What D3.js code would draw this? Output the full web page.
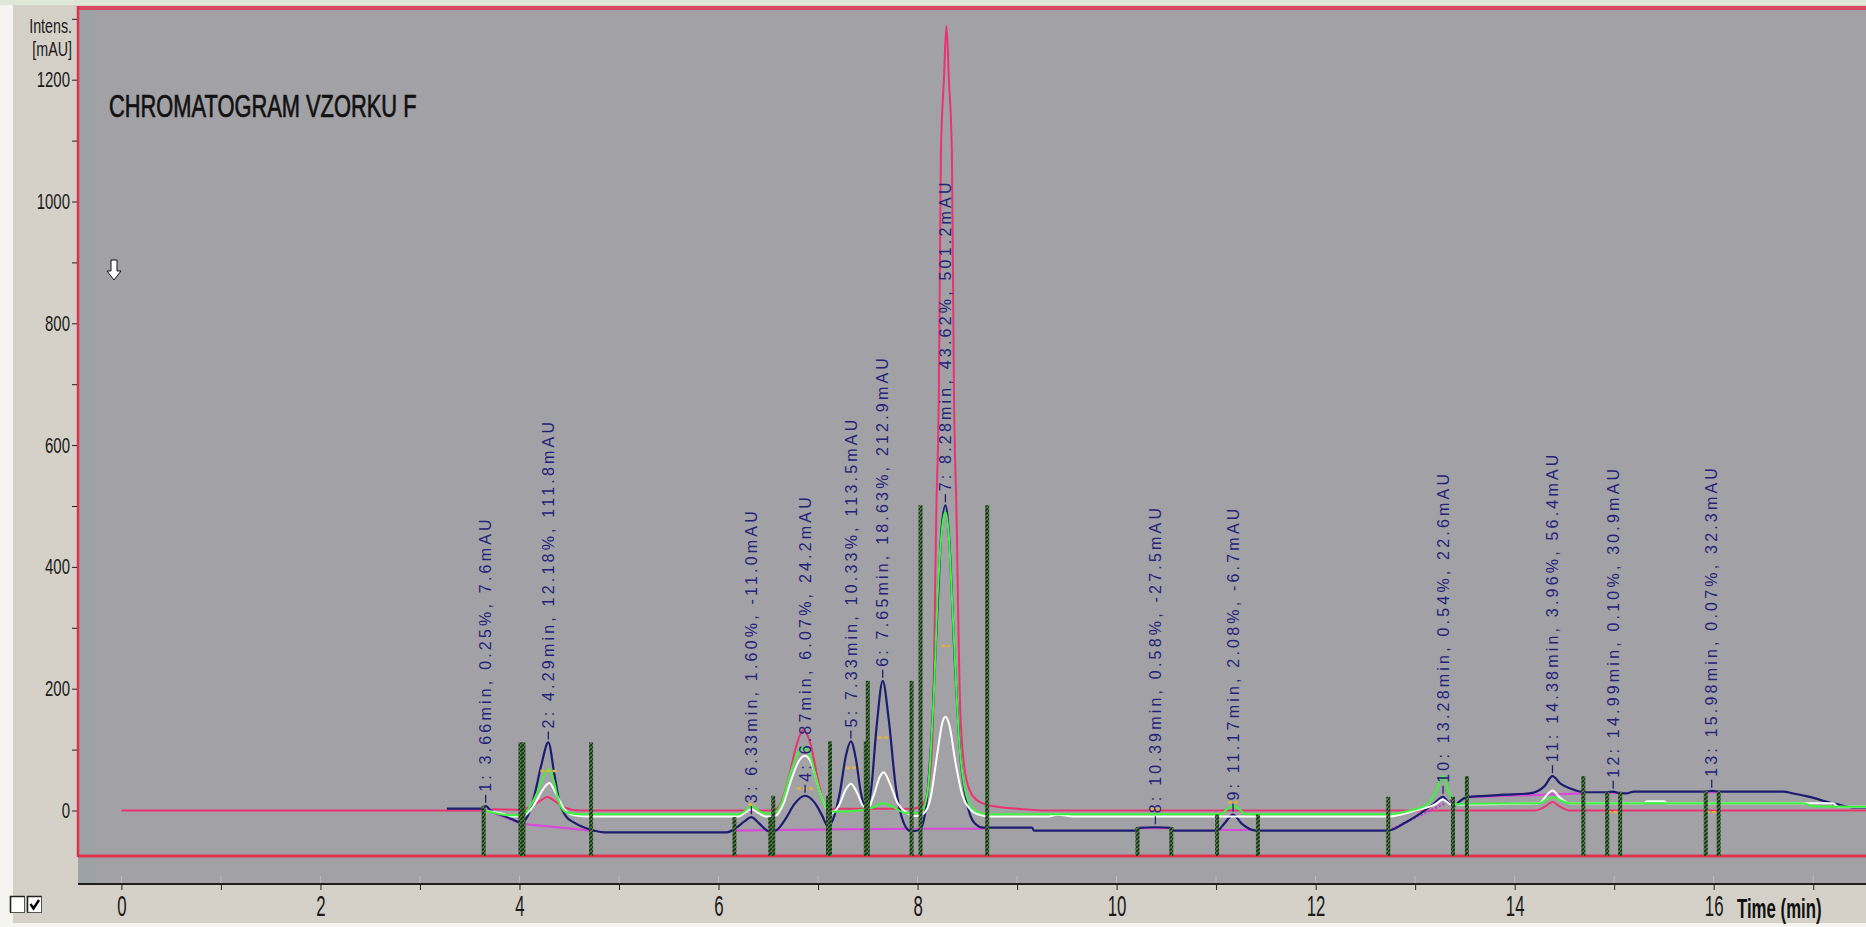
<!DOCTYPE html>
<html><head><meta charset="utf-8">
<script src="https://cdn.jsdelivr.net/npm/d3@7"></script>
<style>
html,body{margin:0;padding:0;background:#fff;overflow:hidden}
svg{display:block}
text{font-family:"Liberation Sans",Arial,Helvetica,sans-serif}
</style></head><body>
<svg id="chart" width="1866" height="927"></svg>
<script>
// ---------- data ----------
const timeTicks = d3.range(0, 18, 1);            // minutes, every minute ticked
const timeLabels = [0, 2, 4, 6, 8, 10, 12, 14, 16];
const intensTicks = d3.range(0, 1301, 100);       // mAU
const intensLabels = [0, 200, 400, 600, 800, 1000, 1200];

// integrated peaks: number, retention time, area %, height (mAU)
const peakNo     = [1, 2, 3, 4, 5, 6, 7, 8, 9, 10, 11, 12, 13];
const peakTime   = [3.66, 4.29, 6.33, 6.87, 7.33, 7.65, 8.28, 10.39, 11.17, 13.28, 14.38, 14.99, 15.98];
const peakArea   = [0.25, 12.18, 1.60, 6.07, 10.33, 18.63, 43.62, 0.58, 2.08, 0.54, 3.96, 0.10, 0.07];
const peakHeight = [7.6, 111.8, -11.0, 24.2, 113.5, 212.9, 501.2, -27.5, -6.7, 22.6, 56.4, 30.9, 32.3];

// main (navy) channel, shape points between the peak apexes [min, mAU]
const navyShape = [
  [3.27, 3], [3.62, 3], [3.71, 0], [3.80, -6], [3.92, -14], [4.02, -20], [4.08, -10], [4.15, 25], [4.22, 75],
  [4.35, 60], [4.40, 15], [4.46, -8], [4.55, -20], [4.65, -28], [4.75, -33], [4.85, -36], [6.08, -36], [6.18, -28], [6.26, -18],
  [6.40, -20], [6.48, -32], [6.53, -36], [6.60, -30], [6.68, -12], [6.76, 10],
  [6.97, 12], [7.04, -8], [7.10, -26], [7.15, -15], [7.22, 30], [7.28, 90],
  [7.38, 85], [7.43, 30], [7.48, 4], [7.53, 30], [7.59, 140],
  [7.71, 150], [7.78, 40], [7.86, -20], [7.93, -34], [8.02, -32], [8.08, 0], [8.14, 120], [8.20, 330], [8.24, 460],
  [8.32, 440], [8.37, 260], [8.43, 90], [8.50, 10], [8.57, -20], [8.66, -28], [9.15, -28], [9.17, -33], [10.20, -33], [10.22, -28.5],
  [10.55, -28.5], [10.57, -33], [11.01, -33], [11.08, -22],
  [11.26, -22], [11.40, -33], [12.73, -33], [12.90, -20], [13.05, -5], [13.18, 10],
  [13.34, 12], [13.40, 8], [13.44, 14], [13.52, 22], [13.70, 24], [13.90, 26], [14.15, 28], [14.30, 40],
  [14.46, 44], [14.56, 36], [14.70, 30], [14.92, 30],
  [15.06, 28], [15.12, 28], [15.20, 31], [15.90, 31],
  [16.06, 31], [16.70, 31], [16.80, 28], [16.92, 24], [17.02, 20], [17.12, 15], [17.22, 11], [17.32, 7], [17.42, 5], [17.56, 5]
];

// second channel (pink)
const pinkTrace = [
  [0, 0], [3.64, 0], [3.75, 2], [4.00, 1], [4.10, 5], [4.20, 15], [4.28, 22], [4.36, 15], [4.45, 5], [4.60, 0],
  [6.55, 0], [6.62, 10], [6.70, 50], [6.78, 105], [6.85, 132], [6.92, 112], [7.00, 50], [7.06, 12], [7.12, 3], [7.95, 3],
  [8.04, 8], [8.10, 30], [8.15, 120], [8.19, 500], [8.215, 700], [8.225, 900], [8.235, 1080], [8.265, 1200], [8.29, 1288],
  [8.315, 1200], [8.345, 1080], [8.355, 900], [8.365, 700], [8.39, 500], [8.43, 160], [8.48, 60], [8.55, 25], [8.65, 12],
  [8.80, 6], [9.00, 3], [9.30, 0], [14.20, 0], [14.30, 6], [14.38, 14], [14.46, 6], [14.56, 0], [17.56, 0]
];

// third channel (green)
const greenTrace = [
  [3.64, 0], [3.75, -4], [3.90, -8], [4.03, -8], [4.10, 5], [4.18, 30], [4.25, 58], [4.30, 68], [4.35, 45], [4.40, 12],
  [4.47, -3], [4.60, -6], [6.20, -6], [6.27, 0], [6.33, 8], [6.40, 0], [6.47, -5], [6.57, -3], [6.64, 15], [6.72, 60],
  [6.80, 95], [6.86, 104], [6.93, 85], [7.00, 40], [7.07, 8], [7.14, -2], [7.40, 0], [7.55, 5], [7.65, 12], [7.75, 6],
  [7.88, -4], [8.03, -4], [8.10, 30], [8.16, 180], [8.21, 380], [8.26, 480], [8.28, 490], [8.31, 460], [8.36, 300],
  [8.42, 110], [8.49, 25], [8.56, 2], [8.70, -6], [11.05, -6], [11.12, 4], [11.17, 8], [11.22, 4], [11.30, -6],
  [12.73, -6], [12.95, 0], [13.12, 10], [13.22, 35], [13.28, 57], [13.34, 30], [13.40, 10], [13.50, 11], [14.25, 12],
  [14.32, 18], [14.38, 22], [14.45, 17], [14.55, 12], [16.90, 12], [17.00, 7], [17.56, 6]
];

// fourth channel (white)
const whiteTrace = [
  [3.64, 0], [3.80, -4], [3.95, -10], [4.05, -8], [4.15, 10], [4.25, 38], [4.30, 45], [4.36, 30], [4.44, 5], [4.55, -8],
  [4.70, -10], [6.20, -10], [6.27, -3], [6.33, 2], [6.40, -4], [6.48, -10], [6.57, -9], [6.65, 10], [6.73, 50], [6.81, 82],
  [6.87, 90], [6.94, 75], [7.01, 35], [7.08, 5], [7.14, -4], [7.21, 8], [7.28, 35], [7.33, 44], [7.39, 30], [7.45, 8],
  [7.50, 3], [7.56, 25], [7.62, 55], [7.66, 63], [7.72, 45], [7.80, 12], [7.88, -2], [7.98, -9], [8.06, -5], [8.13, 20],
  [8.20, 95], [8.25, 145], [8.28, 154], [8.32, 140], [8.38, 80], [8.45, 25], [8.53, 2], [8.62, -7], [8.75, -10], [9.30, -10],
  [9.40, -7], [9.60, -10], [12.73, -10], [13.00, 0], [13.20, 10], [13.28, 18], [13.36, 10], [13.45, 10], [14.25, 12],
  [14.32, 25], [14.38, 33], [14.45, 22], [14.55, 12], [15.30, 12], [15.33, 15], [15.50, 15], [15.53, 12], [17.20, 12],
  [17.25, 6], [17.56, 6]
];

// integration baselines [min, mAU]
const baselineSegments = [
  [[3.64, 2], [4.03, -22], [4.72, -33]],
  [[6.16, -33], [7.12, -31], [7.94, -30], [8.70, -30]],
  [[10.21, -29], [10.55, -29]],
  [[11.01, -32], [11.42, -32]],
  [[13.52, 22], [14.69, 28]],
  [[14.93, 29], [15.06, 29]],
  [[15.92, 30], [16.05, 30]]
];
const dottedBaseline = [[12.73, -33], [13.38, 18]];

// half-height width markers [start, end, mAU]
const widthMarks = [
  [4.21, 4.37, 65], [6.30, 6.37, 10], [6.79, 6.95, 36], [7.28, 7.38, 70], [7.60, 7.71, 120],
  [8.24, 8.33, 270], [10.34, 10.44, 2], [11.12, 11.22, 13], [14.93, 15.05, -3], [15.92, 16.04, -3]
];

// peak start / end delimiters [min, top mAU]
const delimiters = [
  [3.64, 7.6], [4.01, 111.8], [4.04, 111.8], [4.72, 111.8], [6.16, -11.0], [6.52, -11.0], [6.55, 24.2],
  [7.10, 24.2], [7.12, 113.5], [7.48, 113.5], [7.50, 212.9], [7.94, 212.9], [8.03, 501.2], [8.70, 501.2],
  [10.21, -27.5], [10.55, -27.5], [11.01, -6.7], [11.42, -6.7], [12.73, 22.6], [13.38, 22.6], [13.52, 56.4],
  [14.69, 56.4], [14.93, 30.9], [15.06, 30.9], [15.92, 32.3], [16.05, 32.3]
];

// ---------- layout ----------
const W = 1866, H = 927;
const plotLeft = 78, plotTop = 9, frameBottom = 856, axisY = 884;

const x = d3.scaleLinear().domain([0, 16]).range([121.4, 1713.7]);
const y = d3.scaleLinear().domain([0, 1200]).range([810.5, 79.7]);

const svg = d3.select("#chart");
const defs = svg.append("defs");

defs.append("clipPath").attr("id", "plotClip")
  .append("rect").attr("x", plotLeft + 1).attr("y", plotTop + 2)
  .attr("width", W - plotLeft).attr("height", frameBottom - plotTop - 2);

const hatch = defs.append("pattern").attr("id", "hatch")
  .attr("patternUnits", "userSpaceOnUse").attr("width", 4).attr("height", 4);
hatch.append("rect").attr("width", 4).attr("height", 4).attr("fill", "#56784c");
hatch.append("path").attr("d", "M-1,5 L5,-1").attr("stroke", "#143a14").attr("stroke-width", 1.8);

// window background
svg.append("rect").attr("width", W).attr("height", H).attr("fill", "#f4f4f0");
svg.append("rect").attr("x", 13).attr("y", 5).attr("width", W - 13).attr("height", H - 9).attr("fill", "#d5d1c9");
svg.append("rect").attr("x", 0).attr("y", 0).attr("width", W).attr("height", 5).attr("fill", "#dfe8d6");

// plot area
svg.append("rect").attr("x", plotLeft).attr("y", plotTop).attr("width", W - plotLeft)
  .attr("height", axisY - plotTop).attr("fill", "#a2a2a6");
svg.append("rect").attr("x", plotLeft + 2).attr("y", plotTop).attr("width", 15)
  .attr("height", axisY - plotTop).attr("fill", "#9ca3a7");

// frame lines
svg.append("rect").attr("x", plotLeft).attr("y", 6).attr("width", W - plotLeft).attr("height", 4).attr("fill", "#d84a62");
svg.append("line").attr("x1", plotLeft).attr("x2", W).attr("y1", frameBottom).attr("y2", frameBottom)
  .attr("stroke", "#e0324c").attr("stroke-width", 3);
svg.append("line").attr("x1", plotLeft).attr("x2", plotLeft).attr("y1", 6).attr("y2", frameBottom + 1)
  .attr("stroke", "#e0324c").attr("stroke-width", 2.5);

// helper: narrow a text by a horizontal scale around its own anchor point
function narrow(sel, f) {
  sel.each(function () {
    const t = d3.select(this);
    const x0 = +t.attr("x") || 0;
    t.attr("x", x0 / f).attr("transform", `scale(${f},1)`);
  });
}

// y axis
const yAxis = d3.axisLeft(y).tickValues(intensTicks).tickSize(5).tickPadding(2)
  .tickFormat(d => intensLabels.includes(d) ? d : "");
const gy = svg.append("g").attr("transform", `translate(${plotLeft - 1},0)`).call(yAxis);
gy.select(".domain").remove();
gy.selectAll(".tick line").attr("stroke", "#222");
gy.selectAll(".tick text").attr("font-size", 22).attr("fill", "#1a1a1a")
  .attr("font-family", "'Liberation Sans',Arial,sans-serif").call(narrow, 0.68);

svg.append("text").attr("x", 72).attr("y", 33).attr("text-anchor", "end").attr("font-size", 21)
  .attr("fill", "#1a1a1a").text("Intens.").call(narrow, 0.68);
svg.append("text").attr("x", 72).attr("y", 56).attr("text-anchor", "end").attr("font-size", 21)
  .attr("fill", "#1a1a1a").text("[mAU]").call(narrow, 0.68);

// x axis
const xAxis = d3.axisBottom(x).tickValues(timeTicks).tickSize(6).tickPadding(5)
  .tickFormat(d => timeLabels.includes(d) ? d : "");
const gx = svg.append("g").attr("transform", `translate(0,${axisY})`).call(xAxis);
gx.select(".domain").remove();
gx.selectAll(".tick line").attr("stroke", "#222");
gx.selectAll(".tick text").attr("font-size", 30).attr("fill", "#1a1a1a")
  .attr("font-family", "'Liberation Sans',Arial,sans-serif").call(narrow, 0.56);
svg.append("line").attr("x1", plotLeft).attr("x2", W).attr("y1", axisY).attr("y2", axisY)
  .attr("stroke", "#1e1e1e").attr("stroke-width", 2);
// faint inner minute marks
svg.append("g").selectAll("line").data(timeTicks).join("line")
  .attr("x1", d => x(d)).attr("x2", d => x(d)).attr("y1", axisY - 1).attr("y2", axisY - 8)
  .attr("stroke", "#bdbdc0").attr("stroke-width", 1);

svg.append("text").attr("x", 1737).attr("y", 918).attr("font-size", 28).attr("font-weight", "bold")
  .attr("fill", "#111").text("Time (min)").call(narrow, 0.6);

// title
svg.append("text").attr("x", 109).attr("y", 117).attr("font-size", 31).attr("fill", "#111")
  .attr("stroke", "#111").attr("stroke-width", 0.7)
  .text("CHROMATOGRAM VZORKU F").call(narrow, 0.705);

// small down-arrow marker
svg.append("path")
  .attr("d", "M111,260 H117 V271 H121 L114,280 L107,271 H111 Z")
  .attr("fill", "#fff").attr("stroke", "#111").attr("stroke-width", 1);

// check boxes
svg.append("rect").attr("x", 10.5).attr("y", 896.5).attr("width", 14).attr("height", 16)
  .attr("fill", "#fff").attr("stroke", "#555");
svg.append("path").attr("d", "M10.5,912.5 V896.5 H24.5").attr("fill", "none").attr("stroke", "#222").attr("stroke-width", 1.6);
svg.append("rect").attr("x", 27.5).attr("y", 896.5).attr("width", 14).attr("height", 16)
  .attr("fill", "#fff").attr("stroke", "#555");
svg.append("path").attr("d", "M27.5,912.5 V896.5 H41.5").attr("fill", "none").attr("stroke", "#222").attr("stroke-width", 1.6);
svg.append("path").attr("d", "M30.5,904 L33.5,908.5 L39,900").attr("fill", "none").attr("stroke", "#000").attr("stroke-width", 2.4);

// ---------- traces ----------
const plot = svg.append("g").attr("clip-path", "url(#plotClip)");
const line = d3.line().x(d => x(d[0])).y(d => y(d[1])).curve(d3.curveMonotoneX);
const straight = d3.line().x(d => x(d[0])).y(d => y(d[1]));

// navy trace = shape points + labelled apexes
const navyTrace = navyShape.concat(peakTime.map((t, i) => [t, peakHeight[i]]))
  .sort((a, b) => a[0] - b[0]);

plot.append("path").datum(pinkTrace).attr("d", line).attr("fill", "none")
  .attr("stroke", "#ea3470").attr("stroke-width", 2);

plot.append("g").selectAll("path").data(baselineSegments).join("path")
  .attr("d", straight).attr("fill", "none").attr("stroke", "#d64bd6").attr("stroke-width", 2.2);
plot.append("path").datum(dottedBaseline).attr("d", straight).attr("fill", "none")
  .attr("stroke", "#c43ad0").attr("stroke-width", 2.5).attr("stroke-dasharray", "2 2");

plot.append("path").datum(navyTrace).attr("d", line).attr("fill", "none")
  .attr("stroke", "#1c1c72").attr("stroke-width", 2.2);
plot.append("path").datum(whiteTrace).attr("d", line).attr("fill", "none")
  .attr("stroke", "#ffffff").attr("stroke-width", 2);
plot.append("path").datum(greenTrace).attr("d", line).attr("fill", "none")
  .attr("stroke", "#3cf53c").attr("stroke-width", 2);

plot.append("g").selectAll("line").data(widthMarks).join("line")
  .attr("x1", d => x(d[0])).attr("x2", d => x(d[1])).attr("y1", d => y(d[2])).attr("y2", d => y(d[2]))
  .attr("stroke", "#e2b043").attr("stroke-width", 2.5).attr("stroke-dasharray", "4 2");

// peak delimiters
plot.append("g").selectAll("rect").data(delimiters).join("rect")
  .attr("x", d => x(d[0]) - 2).attr("width", 4)
  .attr("y", d => y(d[1])).attr("height", d => frameBottom - y(d[1]))
  .attr("fill", "url(#hatch)");

// peak annotations
const peaks = peakNo.map((n, i) => ({ n, t: peakTime[i], a: peakArea[i], h: peakHeight[i] }));
const lab = svg.append("g").selectAll("g").data(peaks).join("g");
lab.append("line").attr("x1", d => x(d.t)).attr("x2", d => x(d.t))
  .attr("y1", d => y(d.h) - 3).attr("y2", d => y(d.h) - 11)
  .attr("stroke", "#20206e").attr("stroke-width", 1.3);
lab.append("text")
  .attr("transform", d => `translate(${x(d.t)},${y(d.h) - 14}) rotate(-90)`)
  .attr("dy", "0.36em").attr("font-size", 16).attr("letter-spacing", "3.2px")
  .attr("fill", "#22227a")
  .text(d => `${d.n}: ${d.t.toFixed(2)}min, ${d.a.toFixed(2)}%, ${d.h.toFixed(1)}mAU`);
</script></body></html>
